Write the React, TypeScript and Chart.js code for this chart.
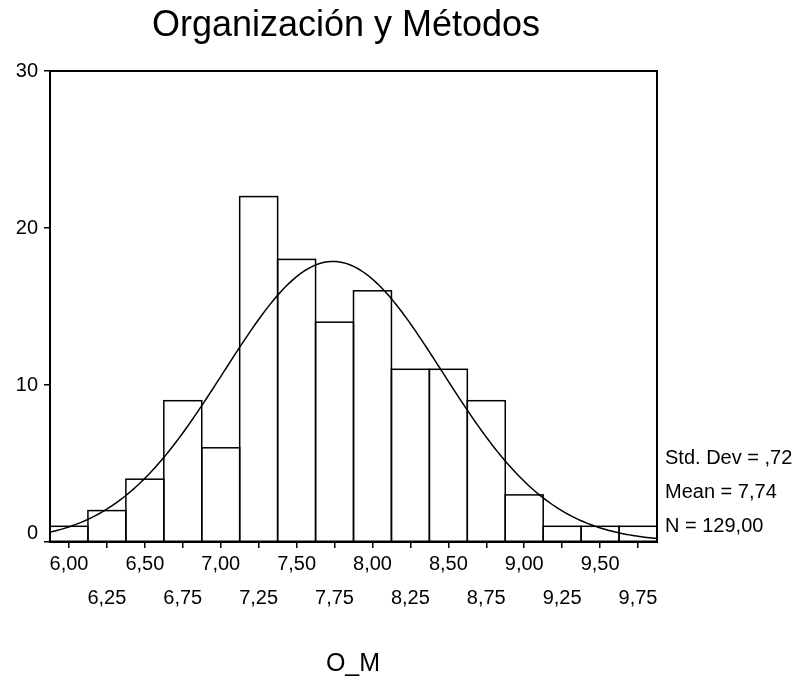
import React, { useEffect, useRef } from 'react';
import { Chart, registerables } from 'chart.js';

Chart.register(...registerables);

const FONT = "'Liberation Sans', Arial, Helvetica, sans-serif";

const TITLE = 'Organización y Métodos';
const X_TITLE = 'O_M';
const BIN_CENTERS = [6.0, 6.25, 6.5, 6.75, 7.0, 7.25, 7.5, 7.75, 8.0, 8.25, 8.5, 8.75, 9.0, 9.25, 9.5, 9.75];
const BIN_COUNTS = [1, 2, 4, 9, 6, 22, 18, 14, 16, 11, 11, 9, 3, 1, 1, 1];
const BIN_WIDTH = 0.25;
const X_TICK_LABELS = ['6,00', '6,25', '6,50', '6,75', '7,00', '7,25', '7,50', '7,75', '8,00', '8,25', '8,50', '8,75', '9,00', '9,25', '9,50', '9,75'];
const Y_TICKS = [0, 10, 20, 30];
const MEAN = 7.74;
const STD_DEV = 0.72;
const N = 129;
const STATS_LABELS = ['Std. Dev = ,72', 'Mean = 7,74', 'N = 129,00'];

const X_MIN = BIN_CENTERS[0] - BIN_WIDTH / 2;
const X_MAX = BIN_CENTERS[BIN_CENTERS.length - 1] + BIN_WIDTH / 2;

// Fitted normal curve defined by the displayed statistics (mean, std. dev, N)
function normalCurve() {
  const pts: { x: number; y: number }[] = [];
  const steps = 240;
  const k = (N * BIN_WIDTH) / (STD_DEV * Math.sqrt(2 * Math.PI));
  for (let i = 0; i <= steps; i++) {
    const x = X_MIN + ((X_MAX - X_MIN) * i) / steps;
    const z = (x - MEAN) / STD_DEV;
    pts.push({ x, y: k * Math.exp(-0.5 * z * z) });
  }
  return pts;
}

const outlinePlugin = {
  id: 'barOutline',
  afterDatasetDraw(chart: any, args: any) {
    const meta = args.meta;
    if (meta.type !== 'bar') return;
    const ctx = chart.ctx;
    ctx.save();
    ctx.strokeStyle = '#000';
    ctx.lineWidth = 1.5;
    meta.data.forEach((el: any) => {
      const { x, y, base, width } = el.getProps(['x', 'y', 'base', 'width'], true);
      ctx.strokeRect(x - width / 2, y, width, base - y);
    });
    ctx.restore();
  },
};

const textPlugin = {
  id: 'spssText',
  afterDraw(chart: any) {
    const ctx = chart.ctx;
    const { left, top, right, bottom } = chart.chartArea;
    ctx.save();
    ctx.strokeStyle = '#000';
    ctx.lineWidth = 2;
    ctx.strokeRect(left, top, right - left, bottom - top);
    ctx.fillStyle = '#000';
    ctx.textBaseline = 'middle';
    ctx.textAlign = 'center';
    ctx.font = `36px ${FONT}`;
    ctx.fillText(TITLE, 346, 26);
    ctx.font = `25px ${FONT}`;
    ctx.fillText(X_TITLE, 353, 664);
    ctx.font = `20px ${FONT}`;
    ctx.textAlign = 'left';
    const ys = [bottom - 84, bottom - 50, bottom - 16];
    STATS_LABELS.forEach((s, i) => ctx.fillText(s, right + 8, ys[i]));
    ctx.restore();
  },
};

export default function App() {
  const ref = useRef<HTMLCanvasElement | null>(null);

  useEffect(() => {
    if (!ref.current) return;
    const chart = new Chart(ref.current, {
      type: 'bar',
      data: {
        datasets: [
          {
            type: 'line',
            data: normalCurve(),
            borderColor: '#000',
            borderWidth: 1.5,
            pointRadius: 0,
            tension: 0,
            fill: false,
            order: 0,
          } as any,
          {
            type: 'bar',
            data: BIN_CENTERS.map((x, i) => ({ x, y: BIN_COUNTS[i] })),
            backgroundColor: '#fff',
            borderColor: '#000',
            borderWidth: 0,
            barPercentage: 1,
            categoryPercentage: 1,
            order: 1,
          } as any,
        ],
      },
      options: {
        animation: false,
        responsive: false,
        maintainAspectRatio: false,
        layout: { padding: { left: 0, top: 71, right: 144, bottom: 0 } },
        plugins: {
          legend: { display: false },
          title: { display: false },
          tooltip: { enabled: false },
        },
        scales: {
          x: {
            type: 'linear',
            min: X_MIN,
            max: X_MAX,
            offset: false,
            afterBuildTicks: (scale: any) => {
              scale.ticks = BIN_CENTERS.map((v) => ({ value: v }));
            },
            afterFit: (scale: any) => {
              scale.height = 137;
            },
            grid: {
              display: true,
              drawOnChartArea: false,
              drawTicks: true,
              tickLength: 6,
              color: '#000',
              lineWidth: 1.5,
              offset: false,
            },
            border: { display: false },
            ticks: {
              autoSkip: false,
              maxRotation: 0,
              minRotation: 0,
              padding: -1,
              color: '#000',
              font: { size: 20, family: FONT, lineHeight: 1.7 },
              callback: (_v: any, index: number) =>
                index % 2 === 0 ? X_TICK_LABELS[index] : ['', X_TICK_LABELS[index]],
            },
          } as any,
          y: {
            type: 'linear',
            min: 0,
            max: 30,
            afterBuildTicks: (scale: any) => {
              scale.ticks = Y_TICKS.map((v) => ({ value: v }));
            },
            afterFit: (scale: any) => {
              scale.width = 50;
            },
            grid: {
              display: true,
              drawOnChartArea: false,
              drawTicks: true,
              tickLength: 6,
              color: '#000',
              lineWidth: 1.5,
            },
            border: { display: false },
            ticks: {
              padding: 6,
              color: '#000',
              font: { size: 20, family: FONT, lineHeight: 0.9 },
              callback: (v: any) => (v === 0 ? ['0', ''] : String(v)),
            },
          } as any,
        },
      },
      plugins: [outlinePlugin, textPlugin],
    });
    return () => chart.destroy();
  }, []);

  return (
    <div style={{ position: 'absolute', left: 0, top: 0, width: 801, height: 679, background: '#fff' }}>
      <canvas ref={ref} width={801} height={679} style={{ display: 'block' }} />
    </div>
  );
}
